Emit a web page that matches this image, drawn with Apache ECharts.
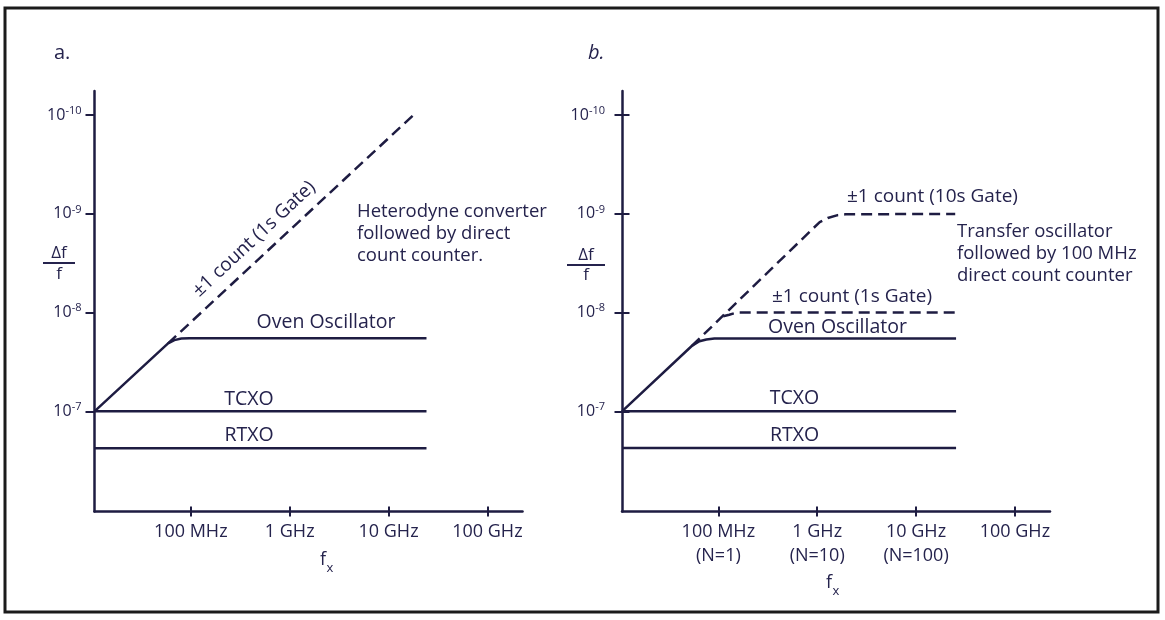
<!DOCTYPE html>
<html><head><meta charset="utf-8">
<script src="https://cdn.jsdelivr.net/npm/echarts@6/dist/echarts.min.js"></script>
<style>html,body{margin:0;padding:0;background:#fff}#c{width:1165px;height:620px}</style>
</head><body><div id="c"></div>
<script>
// ---- axis extents (physical values) ----
const xRange = [1.06e7, 2.265e11];        // frequency fx, Hz
const yRange = [5.69e-11, 1.035e-6];      // resolution Δf/f (1e-10 at top)

// ---- tick values / labels ----
const xTickValues = [1e8, 1e9, 1e10, 1e11];
const xTickLabelsA = ['100 MHz', '1 GHz', '10 GHz', '100 GHz'];
const xTickLabelsB = ['100 MHz\n(N=1)', '1 GHz\n(N=10)', '10 GHz\n(N=100)', '100 GHz'];
const yTickValues = [1e-10, 1e-9, 1e-8, 1e-7];
const yTickExponents = ['-10', '-9', '-8', '-7'];

// ---- panel a: heterodyne converter ----
const aOvenF   = [1.06e7, 5.88e7, 6.81e7, 8.01e7, 9.66e7, 2.42e10];
const aOvenR   = [1e-7, 2.05e-8, 1.90e-8, 1.83e-8, 1.82e-8, 1.82e-8];
const aCountF  = [5.88e7, 1.78e10];
const aCountR  = [2.05e-8, 1.0e-10];
const aTcxoF   = [1.06e7, 2.42e10];
const aTcxoR   = [1e-7, 1e-7];
const aRtxoF   = [1.06e7, 2.42e10];
const aRtxoR   = [2.37e-7, 2.37e-7];

// ---- panel b: transfer oscillator ----
const bOvenF   = [1.06e7, 5.38e7, 6.44e7, 7.57e7, 9.12e7, 2.54e10];
const bOvenR   = [1e-7, 2.18e-8, 1.95e-8, 1.87e-8, 1.83e-8, 1.83e-8];
const bCount1F = [1.12e8, 1.29e8, 1.52e8, 2.49e10];
const bCount1R = [1.09e-8, 1.05e-8, 1.0e-8, 1.0e-8];
const bCount10F = [5.38e7, 1.06e9, 1.28e9, 1.61e9, 1.94e9, 2.49e10];
const bCount10R = [2.18e-8, 1.21e-9, 1.10e-9, 1.03e-9, 1.01e-9, 1.0e-9];
const bTcxoF   = [1.06e7, 2.54e10];
const bTcxoR   = [1e-7, 1e-7];
const bRtxoF   = [1.06e7, 2.54e10];
const bRtxoR   = [2.36e-7, 2.36e-7];

const LINE = '#1e1c42';
const TXT = '#25234d';
const FONT = 'Open Sans';
const L = v => Math.log10(v);
const tickIdx = (arr, v) => arr.findIndex(t => Math.abs(L(t) - v) < 1e-6);

function xAxisPair(grid, labels) {
  const base = {
    gridIndex: grid, type: 'value', position: 'bottom', offset: 0,
    min: L(xRange[0]), max: L(xRange[1]), splitLine: {show: false}
  };
  return [
    Object.assign({}, base, {
      axisLine: {onZero: false, lineStyle: {color: LINE, width: 2.5}},
      axisTick: {customValues: xTickValues.map(L), length: 5, lineStyle: {color: LINE, width: 2}},
      axisLabel: {
        customValues: xTickValues.map(L), margin: 8,
        color: TXT, fontFamily: FONT, fontSize: 18, lineHeight: 24,
        formatter: v => labels[tickIdx(xTickValues, v)] || ''
      }
    }),
    Object.assign({}, base, {
      axisLine: {show: false, onZero: false},
      axisTick: {customValues: xTickValues.map(L), inside: true, length: 5, lineStyle: {color: LINE, width: 2}},
      axisLabel: {show: false}
    })
  ];
}

function yAxisMain(grid, tickLen, margin) {
  return {
    gridIndex: grid, type: 'value', inverse: true, position: 'left', offset: 0,
    min: L(yRange[0]), max: L(yRange[1]), splitLine: {show: false},
    axisLine: {onZero: false, lineStyle: {color: LINE, width: 2.5}},
    axisTick: {customValues: yTickValues.map(L), length: tickLen, lineStyle: {color: LINE, width: 2}},
    axisLabel: {
      customValues: yTickValues.map(L), margin: margin,
      formatter: v => '{b|10}{s|' + yTickExponents[tickIdx(yTickValues, v)] + '}',
      rich: {
        b: {fontFamily: FONT, fontSize: 16, color: TXT, lineHeight: 20},
        s: {fontFamily: FONT, fontSize: 11, color: TXT, verticalAlign: 'top', lineHeight: 13}
      }
    }
  };
}

function series(fs, rs, xi, yi, dashed) {
  return {
    type: 'line', xAxisIndex: xi, yAxisIndex: yi, showSymbol: false, silent: true,
    data: fs.map((f, i) => [L(f), L(rs[i])]),
    lineStyle: {color: LINE, width: 2.5, type: dashed ? [11, 6] : 'solid'}
  };
}

function txt(x, y, text, extra) {
  return {type: 'text', x: x, y: y, silent: true,
    style: Object.assign({text: text, fill: TXT, fontFamily: FONT, fontSize: 19.5,
      align: 'left', verticalAlign: 'middle'}, extra || {})};
}

const xa = xAxisPair(0, xTickLabelsA);
const xb = xAxisPair(1, xTickLabelsB);
const yb2 = yAxisMain(1, 7.5, 17);
const ybInside = {
  gridIndex: 1, type: 'value', inverse: true, position: 'left', offset: 0,
  min: L(yRange[0]), max: L(yRange[1]),
  splitLine: {show: false}, axisLine: {show: false, onZero: false},
  axisTick: {customValues: yTickValues.map(L), inside: true, length: 7.5, lineStyle: {color: LINE, width: 2}},
  axisLabel: {show: false}
};

const option = {
  animation: false,
  backgroundColor: '#ffffff',
  grid: [
    {left: 94.5, top: 91, width: 428, height: 420.5},
    {left: 622, top: 91, width: 428, height: 420.5}
  ],
  xAxis: [xa[0], xa[1], xb[0], xb[1]],
  yAxis: [yAxisMain(0, 9, 13), yb2, ybInside],
  series: [
    series(aOvenF, aOvenR, 0, 0, false),
    series(aCountF, aCountR, 0, 0, true),
    series(aTcxoF, aTcxoR, 0, 0, false),
    series(aRtxoF, aRtxoR, 0, 0, false),
    series(bOvenF, bOvenR, 2, 1, false),
    series(bCount10F, bCount10R, 2, 1, true),
    series(bCount1F, bCount1R, 2, 1, true),
    series(bTcxoF, bTcxoR, 2, 1, false),
    series(bRtxoF, bRtxoR, 2, 1, false)
  ],
  graphic: [
    {type: 'rect', z: -10, silent: true, shape: {x: 5, y: 8, width: 1153, height: 604},
      style: {fill: 'none', stroke: '#1b1b1b', lineWidth: 3}},
    // panel a
    txt(54, 53, 'a.', {fontSize: 20}),
    txt(254, 239, '±1 count (1s Gate)', {align: 'center', fontSize: 19}),
    txt(357, 201, 'Heterodyne converter\nfollowed by direct\ncount counter.', {verticalAlign: 'top', lineHeight: 21.7, fontSize: 18.5}),
    txt(326, 322, 'Oven Oscillator', {align: 'center'}),
    txt(249, 399, 'TCXO', {align: 'center'}),
    txt(249, 435, 'RTXO', {align: 'center'}),
    txt(59, 253, 'Δf', {align: 'center', fontSize: 17}),
    {type: 'line', silent: true, shape: {x1: 43, y1: 263, x2: 75, y2: 263}, style: {stroke: TXT, lineWidth: 2}},
    txt(59, 274, 'f', {align: 'center', fontSize: 17}),
    txt(323, 560, 'f', {align: 'center', fontSize: 18}),
    txt(330, 568, 'x', {align: 'center', fontSize: 13}),
    // panel b
    txt(588, 53, 'b.', {fontSize: 20, fontStyle: 'italic'}),
    txt(847, 197, '±1 count (10s Gate)', {fontSize: 19}),
    txt(957, 221, 'Transfer oscillator\nfollowed by 100 MHz\ndirect count counter', {verticalAlign: 'top', lineHeight: 21.7, fontSize: 18.5}),
    txt(772, 297, '±1 count (1s Gate)', {fontSize: 19}),
    txt(768, 327, 'Oven Oscillator'),
    txt(794.5, 398, 'TCXO', {align: 'center'}),
    txt(794.5, 435, 'RTXO', {align: 'center'}),
    txt(586, 255, 'Δf', {align: 'center', fontSize: 17}),
    {type: 'line', silent: true, shape: {x1: 567, y1: 265, x2: 605, y2: 265}, style: {stroke: TXT, lineWidth: 2}},
    txt(586, 275, 'f', {align: 'center', fontSize: 17}),
    txt(829, 583, 'f', {align: 'center', fontSize: 18}),
    txt(836, 591, 'x', {align: 'center', fontSize: 13})
  ]
};
// rotate the diagonal label along the dashed line
option.graphic[2].rotation = 43 * Math.PI / 180;

const chart = echarts.init(document.getElementById('c'));
chart.setOption(option);
</script>
</body></html>
